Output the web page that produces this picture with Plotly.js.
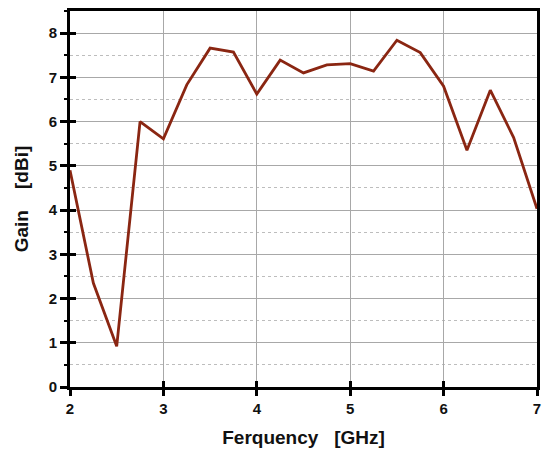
<!DOCTYPE html>
<html>
<head>
<meta charset="utf-8">
<script src="https://cdn.plot.ly/plotly-3.0.1.min.js"></script>
<style>
  body { margin: 0; background: #fff; }
  #chart { width: 550px; height: 458px; }
</style>
</head>
<body>
<div id="chart"></div>
<script>
// frequency in GHz, gain in dBi
var freq = [2, 2.25, 2.5, 2.75, 3, 3.25, 3.5, 3.75, 4, 4.25, 4.5, 4.75, 5, 5.25, 5.5, 5.75, 6, 6.25, 6.5, 6.75, 7];
var gain = [4.9, 2.35, 0.92, 6.0, 5.61, 6.83, 7.66, 7.57, 6.62, 7.39, 7.1, 7.28, 7.31, 7.14, 7.84, 7.56, 6.8, 5.35, 6.71, 5.64, 4.03];

var xTicks = [2, 3, 4, 5, 6, 7];
var yTicks = [0, 1, 2, 3, 4, 5, 6, 7, 8];

var fnt = { family: "Liberation Sans, Arial, sans-serif", size: 15, color: "#111", weight: "bold" };
var titleFnt = { family: "Liberation Sans, Arial, sans-serif", size: 19, color: "#111", weight: "bold" };

var dados = [{
    type: 'scatter',
    mode: 'lines',
    x: freq,
    y: gain,
    line: { color: '#8a2612', width: 2.8 },
    hoverinfo: 'skip'
}, {
    // invisible copy so the inner tick axes get drawn
    type: 'scatter',
    mode: 'lines',
    x: freq,
    y: gain,
    xaxis: 'x2',
    yaxis: 'y2',
    line: { width: 0 },
    hoverinfo: 'skip'
}];

var layout = {
    width: 550,
    height: 458,
    margin: { l: 70, r: 13, t: 11, b: 71 },
    paper_bgcolor: '#fff',
    plot_bgcolor: '#fff',
    showlegend: false,
    xaxis: {
        range: [2, 7],
        tickvals: xTicks,
        ticks: 'outside',
        ticklen: 6,
        tickwidth: 3,
        tickcolor: '#000',
        tickfont: fnt,
        showline: true,
        linewidth: 3,
        linecolor: '#000',
        mirror: true,
        showgrid: true,
        gridcolor: '#a8a8a8',
        gridwidth: 1,
        zeroline: false,
        title: { text: 'Ferquency\u00a0\u00a0\u00a0[GHz]', font: titleFnt, standoff: 15 }
    },
    yaxis: {
        range: [0, 8.5],
        tickvals: yTicks,
        ticks: 'outside',
        ticklen: 7,
        tickwidth: 3,
        tickcolor: '#000',
        tickfont: fnt,
        showline: true,
        linewidth: 3,
        linecolor: '#000',
        mirror: true,
        showgrid: true,
        gridcolor: '#a8a8a8',
        gridwidth: 1,
        zeroline: false,
        minor: {
            dtick: 0.5,
            ticks: 'outside',
            ticklen: 3,
            tickwidth: 2,
            tickcolor: '#000',
            showgrid: true,
            gridcolor: '#bdbdbd',
            griddash: 'dot',
            gridwidth: 1
        },
        // leading spaces nudge the title a little upward, as in the original
        title: { text: '\u00a0\u00a0\u00a0\u00a0Gain\u00a0\u00a0\u00a0\u00a0[dBi]', font: titleFnt, standoff: 16 }
    },
    xaxis2: {
        overlaying: 'x',
        anchor: 'y2',
        side: 'bottom',
        range: [2, 7],
        tickvals: xTicks,
        ticks: 'inside',
        ticklen: 6,
        tickwidth: 3,
        tickcolor: '#000',
        showticklabels: false,
        showgrid: false,
        zeroline: false,
        showline: false
    },
    yaxis2: {
        overlaying: 'y',
        anchor: 'x2',
        side: 'left',
        range: [0, 8.5],
        tickvals: yTicks,
        ticks: 'inside',
        ticklen: 6,
        tickwidth: 3,
        tickcolor: '#000',
        showticklabels: false,
        showgrid: false,
        zeroline: false,
        showline: false
    }
};

Plotly.newPlot('chart', dados, layout, { displayModeBar: false, staticPlot: true });
</script>
</body>
</html>
